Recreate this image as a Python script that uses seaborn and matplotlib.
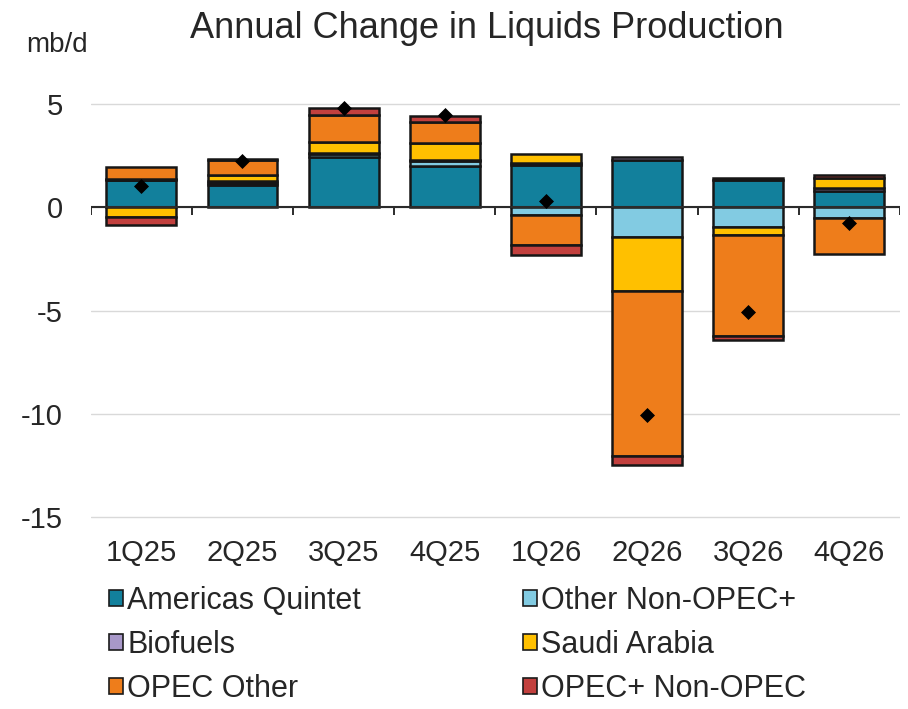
import numpy as np
import pandas as pd
import seaborn as sns
import matplotlib.pyplot as plt
from matplotlib.patches import Patch

# Data (mb/d, annual change)
quarters = ['1Q25', '2Q25', '3Q25', '4Q25', '1Q26', '2Q26', '3Q26', '4Q26']
americas_quintet = [1.30, 1.10, 2.45, 2.00, 2.05, 2.30, 1.30, 0.80]
other_non_opec = [0.00, 0.10, 0.15, 0.25, -0.35, -1.45, -0.95, -0.50]
biofuels = [0.05, 0.05, 0.05, 0.05, 0.10, 0.15, 0.10, 0.15]
saudi_arabia = [-0.45, 0.30, 0.50, 0.80, 0.45, -2.60, -0.40, 0.45]
opec_other = [0.60, 0.75, 1.30, 1.05, -1.50, -8.00, -4.90, -1.75]
opec_plus_non_opec = [-0.40, 0.05, 0.35, 0.25, -0.45, -0.45, -0.20, 0.15]
net_change = [1.05, 2.25, 4.80, 4.45, 0.30, -10.05, -5.05, -0.75]

series = ['Americas Quintet', 'Other Non-OPEC+', 'Biofuels', 'Saudi Arabia',
          'OPEC Other', 'OPEC+ Non-OPEC']
colors = ['#12809c', '#82cbe2', '#a898c9', '#ffc000', '#ee7d1b', '#c2403e']

df = pd.DataFrame({
    'Americas Quintet': americas_quintet,
    'Other Non-OPEC+': other_non_opec,
    'Biofuels': biofuels,
    'Saudi Arabia': saudi_arabia,
    'OPEC Other': opec_other,
    'OPEC+ Non-OPEC': opec_plus_non_opec,
}, index=quarters)

sns.set_theme(style='white')
plt.rcParams['font.family'] = ['Liberation Sans', 'DejaVu Sans']
plt.rcParams['axes.unicode_minus'] = False

fig = plt.figure(figsize=(9.08, 7.09), dpi=100)
ax = fig.add_axes([0.1, 0.262, 0.891, 0.6204])

x = np.arange(len(quarters))
pos_base = np.zeros(len(quarters))
neg_base = np.zeros(len(quarters))
for name, col in zip(series, colors):
    vals = df[name].values
    bottoms = np.where(vals >= 0, pos_base, neg_base)
    ax.bar(x, vals, bottom=bottoms, width=0.69, color=col,
           edgecolor='#161616', linewidth=1.8, zorder=3)
    pos_base = pos_base + np.clip(vals, 0, None)
    neg_base = neg_base + np.clip(vals, None, 0)

# net change markers
net_df = pd.DataFrame({'x': x, 'net': net_change})
sns.scatterplot(data=net_df, x='x', y='net', marker='D', s=50, color='black',
                edgecolor='black', zorder=5, ax=ax, legend=False)

# zero line with category separator ticks
ax.axhline(0, color='#2b2b2b', lw=1.5, zorder=4)
ax.vlines(np.arange(-0.5, len(quarters)), -0.35, 0, color='#2b2b2b', lw=1.4, zorder=4)

ax.set_xlim(-0.5, len(quarters) - 0.5)
ax.set_ylim(-15.3, 6)
ax.set_yticks([5, 0, -5, -10, -15])
ax.yaxis.grid(True, color='#d9d9d9', lw=1.0, zorder=0)
ax.xaxis.grid(False)
for s in ax.spines.values():
    s.set_visible(False)
ax.set_xticks(x)
ax.set_xticklabels(quarters)
ax.tick_params(axis='x', length=0, pad=11, labelsize=21, colors='#262626')
ax.tick_params(axis='y', length=0, pad=20, labelsize=21, colors='#262626')
ax.set_xlabel('')
ax.set_ylabel('')

fig.text(0.536, 1 - 29 / 709, 'Annual Change in Liquids Production',
         ha='center', va='center', fontsize=26, color='#262626')
fig.text(0.063, 1 - 45 / 709, 'mb/d', ha='center', va='center',
         fontsize=20, color='#262626')

order = [0, 2, 4, 1, 3, 5]
handles = [Patch(facecolor=colors[i], edgecolor='#1b1b1b', linewidth=1.2) for i in order]
labels = [series[i] for i in order]
fig.legend(handles, labels, loc='upper left', bbox_to_anchor=(0.12, 1 - 586 / 709),
           ncol=2, frameon=False, fontsize=22, handlelength=0.45, handleheight=0.45,
           handletextpad=0.15, columnspacing=5.3, labelspacing=0.46,
           borderaxespad=0, borderpad=0)

fig.savefig('out.png', dpi=100)
